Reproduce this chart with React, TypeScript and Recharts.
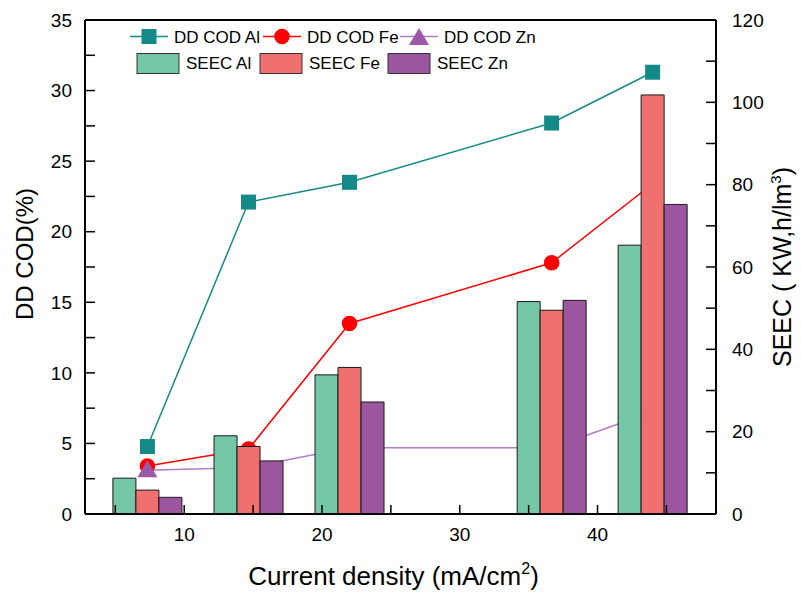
import React from "react";
import { ComposedChart, Bar, Line, XAxis, YAxis, ReferenceLine } from "recharts";

// current density (mA/cm2) of each run
const currentDensity = [7.33, 14.67, 22, 36.67, 44];

// DD COD (%) per electrode material
const codAl = [4.78, 22.1, 23.5, 27.7, 31.3];
const codFe = [3.4, 4.6, 13.5, 17.8, 23.4];
const codZn = [3.1, 3.3, 4.7, 4.7, 7.25];

// SEEC (KW,h/m3) per electrode material
const seecAl = [8.7, 19.0, 33.8, 51.6, 65.3];
const seecFe = [5.8, 16.4, 35.6, 49.5, 101.8];
const seecZn = [4.05, 12.9, 27.2, 51.9, 75.2];

const xTicks = [5, 10, 15, 20, 25, 30, 35, 40, 45];
const xLabels = [10, 20, 30, 40];
const leftTicks = [0, 2.5, 5, 7.5, 10, 12.5, 15, 17.5, 20, 22.5, 25, 27.5, 30, 32.5, 35];
const leftLabels = [0, 5, 10, 15, 20, 25, 30, 35];
const rightTicks = [0, 10, 20, 30, 40, 50, 60, 70, 80, 90, 100, 110, 120];
const rightLabels = [0, 20, 40, 60, 80, 100, 120];

const rows = currentDensity.map((x, i) => ({
  x,
  codAl: codAl[i],
  codFe: codFe[i],
  codZn: codZn[i],
  seecAl: seecAl[i],
  seecFe: seecFe[i],
  seecZn: seecZn[i],
}));

const FONT = "'Liberation Sans', Arial, sans-serif";
const TEAL = "#138A87";
const RED = "#FF0000";
const PURPLE_LINE = "#B07CC4";
const PURPLE_MARK = "#9B59A8";
const BAR_AL = "#74C8A8";
const BAR_FE = "#F07070";
const BAR_ZN = "#9C56A0";

const only = (list: number[]) => (v: number) => (list.includes(v) ? String(v) : "");

const tickStyle = { fill: "#000", fontSize: 19, fontFamily: FONT };

const squareDot = (p: any) => (
  <rect key={`sq-${p.index}`} x={p.cx - 7.5} y={p.cy - 7.5} width={15} height={15} fill={TEAL} />
);
const circleDot = (p: any) => <circle key={`ci-${p.index}`} cx={p.cx} cy={p.cy} r={7.8} fill={RED} />;
const triangleDot = (p: any) => (
  <path
    key={`tr-${p.index}`}
    d={`M${p.cx},${p.cy - 10} L${p.cx + 10},${p.cy + 7} L${p.cx - 10},${p.cy + 7} Z`}
    fill={PURPLE_MARK}
  />
);

const LeftTitle = ({ viewBox }: any) => (
  <text
    x={viewBox.x + 33}
    y={viewBox.y + viewBox.height / 2 - 13}
    transform={`rotate(-90, ${viewBox.x + 33}, ${viewBox.y + viewBox.height / 2 - 13})`}
    textAnchor="middle"
    fontFamily={FONT}
    fontSize={24}
    fill="#000"
  >
    DD COD(%)
  </text>
);

const RightTitle = ({ viewBox }: any) => {
  const cx = viewBox.x + 75;
  const cy = viewBox.y + viewBox.height / 2;
  return (
    <text
      x={cx}
      y={cy}
      transform={`rotate(-90, ${cx}, ${cy})`}
      textAnchor="middle"
      fontFamily={FONT}
      fontSize={25}
      fill="#000"
    >
      SEEC ( KW,h/lm
      <tspan fontSize={15} dy={-10}>3</tspan>
      <tspan dy={10}>)</tspan>
    </text>
  );
};

const BottomTitle = ({ viewBox }: any) => (
  <text
    x={viewBox.x + viewBox.width / 2 - 7}
    y={viewBox.y + 71}
    textAnchor="middle"
    fontFamily={FONT}
    fontSize={26}
    fill="#000"
  >
    Current density (mA/cm
    <tspan fontSize={16} dy={-11}>2</tspan>
    <tspan dy={11}>)</tspan>
  </text>
);

const lineKeys = [
  { name: "DD COD Al", color: TEAL, marker: "square", x: 130 },
  { name: "DD COD Fe", color: RED, marker: "circle", x: 263 },
  { name: "DD COD Zn", color: PURPLE_LINE, marker: "triangle", x: 400 },
];
const barKeys = [
  { name: "SEEC Al", color: BAR_AL, x: 137 },
  { name: "SEEC Fe", color: BAR_FE, x: 260 },
  { name: "SEEC Zn", color: BAR_ZN, x: 388 },
];

function ChartLegend() {
  return (
    <svg
      width={560}
      height={80}
      style={{ position: "absolute", left: 0, top: 0, pointerEvents: "none" }}
    >
      {lineKeys.map((k) => {
        const mx = k.x + 19;
        return (
          <g key={k.name}>
            <line x1={k.x} x2={k.x + 38} y1={36.5} y2={36.5} stroke={k.color} strokeWidth={1.5} />
            {k.marker === "square" && squareDot({ cx: mx, cy: 36.5, index: 0 })}
            {k.marker === "circle" && circleDot({ cx: mx, cy: 36.5, index: 0 })}
            {k.marker === "triangle" && triangleDot({ cx: mx, cy: 38, index: 0 })}
            <text x={k.x + 44} y={42.7} fontFamily={FONT} fontSize={17} fill="#000">
              {k.name}
            </text>
          </g>
        );
      })}
      {barKeys.map((k) => (
        <g key={k.name}>
          <rect x={k.x} y={53.5} width={42} height={20} fill={k.color} stroke="#333" strokeWidth={1} />
          <text x={k.x + 49} y={69.3} fontFamily={FONT} fontSize={17} fill="#000">
            {k.name}
          </text>
        </g>
      ))}
    </svg>
  );
}

export default function App() {
  return (
    <div style={{ position: "absolute", left: 0, top: 0, width: 801, height: 592, background: "#fff" }}>
      <ComposedChart
        width={801}
        height={592}
        data={rows}
        margin={{ top: 20, right: 0, bottom: 0, left: 0 }}
        barGap={0}
        barSize={23}
      >
        <XAxis
          dataKey="x"
          type="number"
          domain={[2.8, 48.6]}
          allowDataOverflow
          ticks={xTicks}
          interval={0}
          tickFormatter={only(xLabels)}
          tickSize={-9}
          tickMargin={23}
          height={78}
          stroke="#000"
          axisLine={{ stroke: "#000", strokeWidth: 2 }}
          tickLine={{ stroke: "#000", strokeWidth: 1.5 }}
          tick={tickStyle}
          label={<BottomTitle />}
          zIndex={900}
        />
        <YAxis
          yAxisId="left"
          orientation="left"
          type="number"
          domain={[0, 35]}
          ticks={leftTicks}
          interval={0}
          tickFormatter={only(leftLabels)}
          tickSize={-10}
          tickMargin={23}
          width={85}
          axisLine={{ stroke: "#000", strokeWidth: 2 }}
          tickLine={{ stroke: "#000", strokeWidth: 1.5 }}
          tick={tickStyle}
          label={<LeftTitle />}
          zIndex={900}
        />
        <YAxis
          yAxisId="right"
          orientation="right"
          type="number"
          domain={[0, 120]}
          ticks={rightTicks}
          interval={0}
          tickFormatter={only(rightLabels)}
          tickSize={-10}
          tickMargin={26}
          width={85}
          axisLine={{ stroke: "#000", strokeWidth: 2 }}
          tickLine={{ stroke: "#000", strokeWidth: 1.5 }}
          tick={tickStyle}
          label={<RightTitle />}
          zIndex={900}
        />
        <ReferenceLine yAxisId="left" y={35} stroke="#000" strokeWidth={2} />

        {/* COD lines and their markers sit underneath the SEEC bars */}
        <Line
          yAxisId="left"
          dataKey="codAl"
          name="DD COD Al"
          stroke={TEAL}
          strokeWidth={1.5}
          dot={squareDot}
          activeDot={false}
          isAnimationActive={false}
          zIndex={250}
        />
        <Line
          yAxisId="left"
          dataKey="codFe"
          name="DD COD Fe"
          stroke={RED}
          strokeWidth={1.5}
          dot={circleDot}
          activeDot={false}
          isAnimationActive={false}
          zIndex={250}
        />
        <Line
          yAxisId="left"
          dataKey="codZn"
          name="DD COD Zn"
          stroke={PURPLE_LINE}
          strokeWidth={1.5}
          dot={triangleDot}
          activeDot={false}
          isAnimationActive={false}
          zIndex={250}
        />

        <Bar yAxisId="right" dataKey="seecAl" name="SEEC Al" fill={BAR_AL} stroke="#1a1a1a" strokeWidth={1} isAnimationActive={false} zIndex={800} />
        <Bar yAxisId="right" dataKey="seecFe" name="SEEC Fe" fill={BAR_FE} stroke="#1a1a1a" strokeWidth={1} isAnimationActive={false} zIndex={800} />
        <Bar yAxisId="right" dataKey="seecZn" name="SEEC Zn" fill={BAR_ZN} stroke="#1a1a1a" strokeWidth={1} isAnimationActive={false} zIndex={800} />
      </ComposedChart>
      <ChartLegend />
    </div>
  );
}
